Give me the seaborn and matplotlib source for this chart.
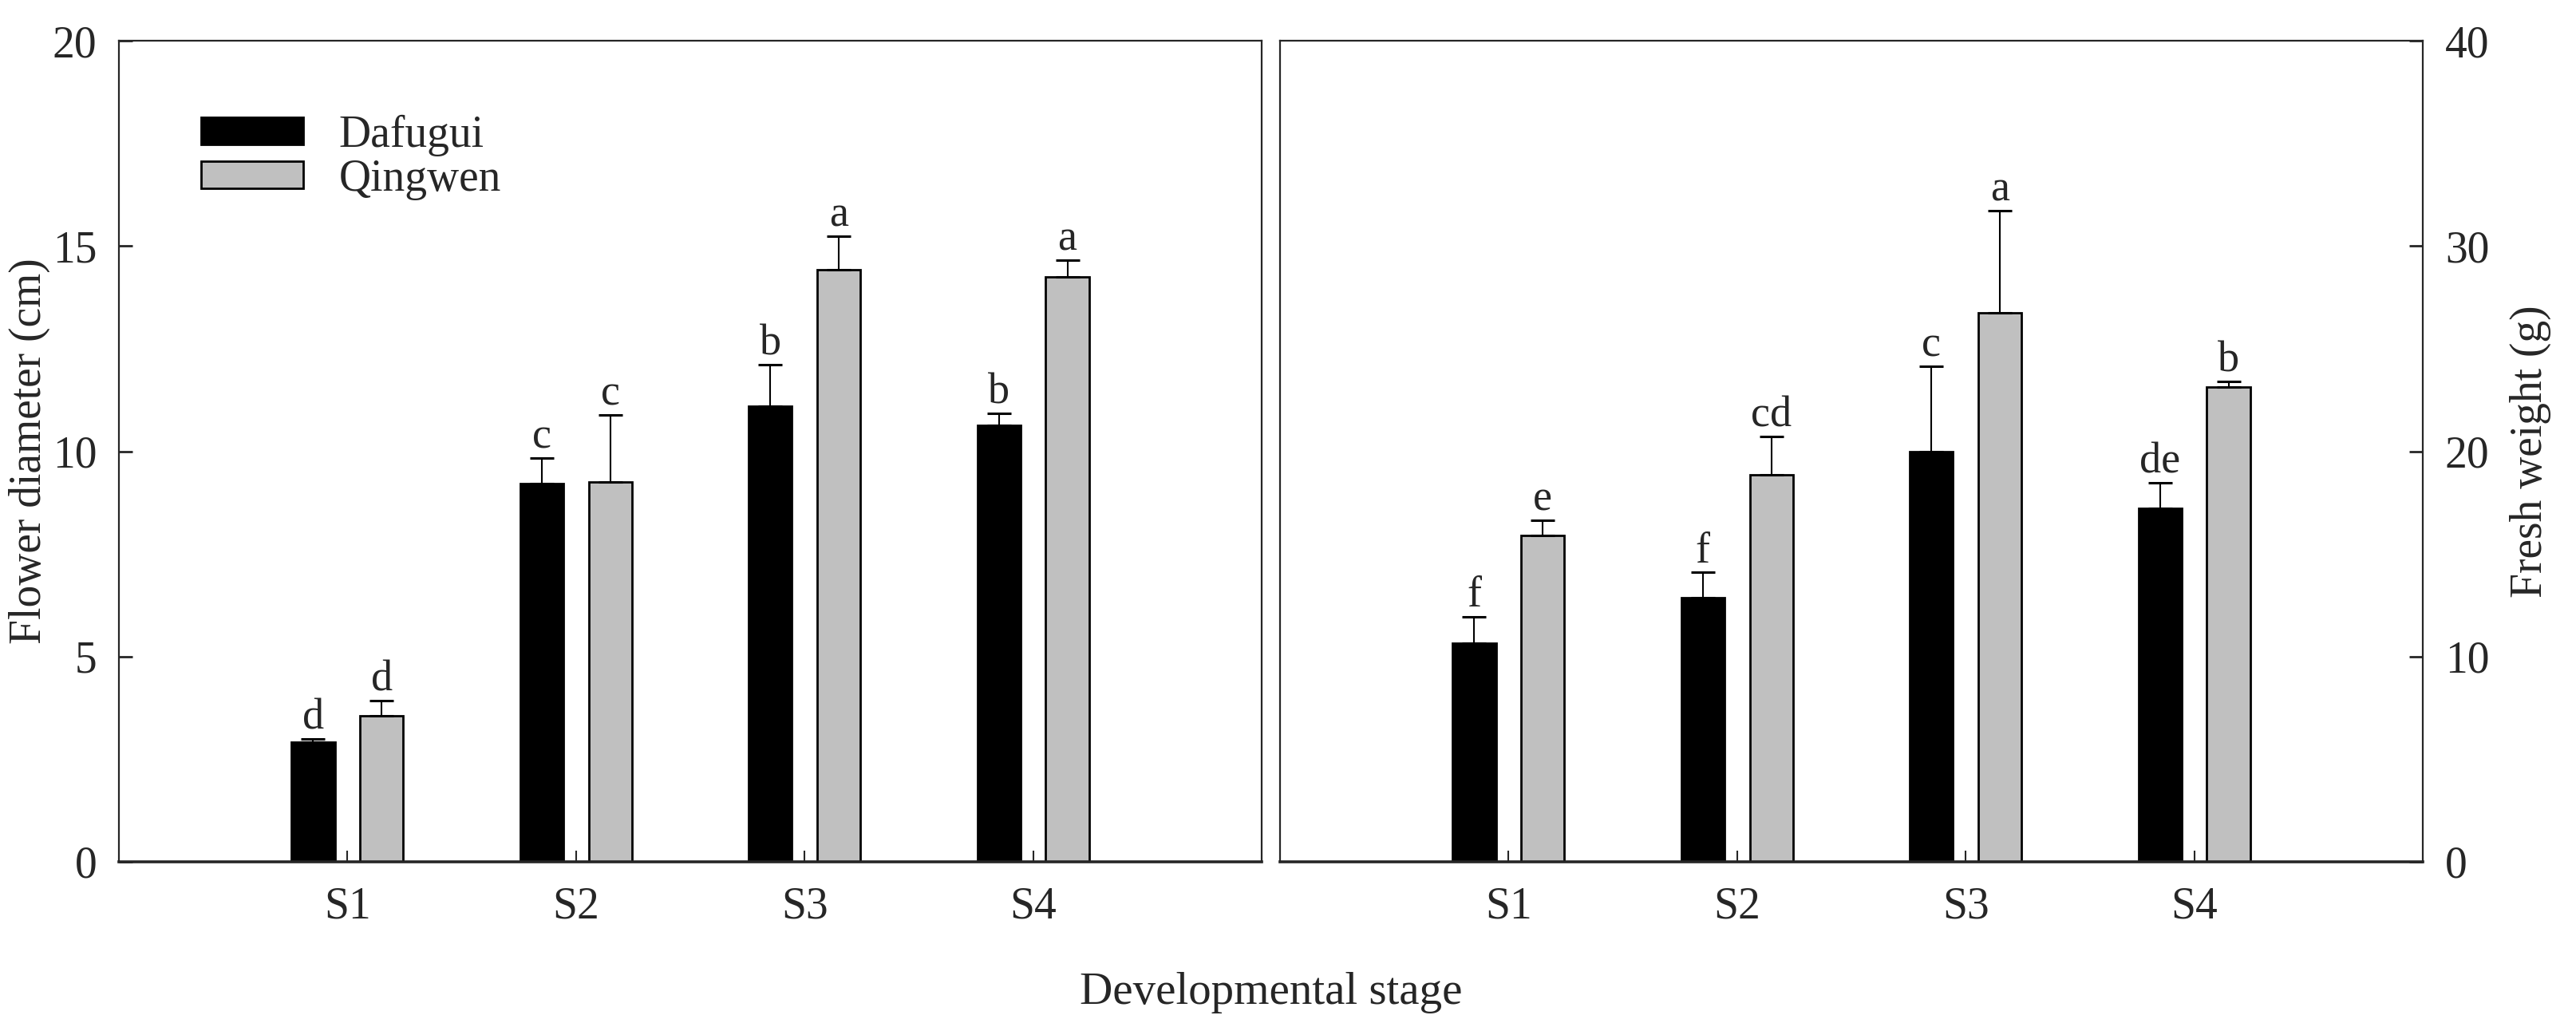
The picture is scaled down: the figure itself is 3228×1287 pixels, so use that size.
import matplotlib
matplotlib.use("Agg")
import matplotlib.pyplot as plt
import seaborn as sns
import pandas as pd
import numpy as np

# ---------------- data ----------------
stages = ["S1", "S2", "S3", "S4"]
cultivars = ["Dafugui", "Qingwen"]

diam_dafugui = [2.91, 9.21, 11.09, 10.63]
diam_dafugui_err = [0.08, 0.62, 1.02, 0.30]
diam_qingwen = [3.55, 9.25, 14.42, 14.24]
diam_qingwen_err = [0.38, 1.63, 0.82, 0.41]
diam_letters_dafugui = ["d", "c", "b", "b"]
diam_letters_qingwen = ["d", "c", "a", "a"]

fw_dafugui = [10.64, 12.85, 19.99, 17.24]
fw_dafugui_err = [1.31, 1.25, 4.16, 1.22]
fw_qingwen = [15.90, 18.87, 26.73, 23.13]
fw_qingwen_err = [0.74, 1.86, 4.98, 0.27]
fw_letters_dafugui = ["f", "f", "c", "de"]
fw_letters_qingwen = ["e", "cd", "a", "b"]

diam_yticks = [0, 5, 10, 15, 20]
fw_yticks = [0, 10, 20, 30, 40]

# ---------------- style ----------------
sns.set_style("ticks")
plt.rcParams["font.family"] = ["Liberation Serif", "DejaVu Serif"]
plt.rcParams["axes.linewidth"] = 1.6
FS = 40

colors = ["black", "#c0c0c0"]

W, H = 3228, 1287
fig = plt.figure(figsize=(W / 100, H / 100), dpi=100)
ax1 = fig.add_axes([149 / W, (H - 1080) / H, 1432 / W, 1029 / H])
ax2 = fig.add_axes([1604 / W, (H - 1080) / H, 1432 / W, 1029 / H])


def make_df(v1, v2):
    return pd.DataFrame({
        "Stage": stages * 2,
        "Cultivar": [cultivars[0]] * 4 + [cultivars[1]] * 4,
        "Value": list(v1) + list(v2),
    })


def draw_panel(ax, v1, e1, v2, e2, l1, l2, legend):
    df = make_df(v1, v2)
    sns.barplot(data=df, x="Stage", y="Value", hue="Cultivar",
                order=stages, hue_order=cultivars, palette=colors,
                width=0.6, gap=0.37, edgecolor="black", linewidth=2.0,
                errorbar=None, ax=ax, legend=legend, saturation=1)
    for cont, vals, errs, labs in zip(ax.containers, [v1, v2], [e1, e2], [l1, l2]):
        xs = [p.get_x() + p.get_width() / 2 for p in cont.patches]
        ys = [p.get_height() for p in cont.patches]
        ax.errorbar(xs, ys, yerr=[np.zeros(len(errs)), errs], fmt="none",
                    ecolor="black", elinewidth=1.5, capsize=11, capthick=2.2,
                    zorder=3)
        for x, y, e, t in zip(xs, ys, errs, labs):
            ax.annotate(t, xy=(x, y + e), xytext=(0, 9), textcoords="offset points",
                        ha="center", va="baseline", fontsize=FS - 1)
    ax.set_xlim(-1, 4)
    ax.set_xlabel("")
    ax.tick_params(axis="x", direction="in", length=10, width=1.5,
                   labelsize=FS, pad=22, top=False)
    for s in ["top", "left", "right"]:
        ax.spines[s].set_linewidth(1.6)
    ax.spines["bottom"].set_linewidth(2.6)


draw_panel(ax1, diam_dafugui, diam_dafugui_err, diam_qingwen, diam_qingwen_err,
           diam_letters_dafugui, diam_letters_qingwen, True)
draw_panel(ax2, fw_dafugui, fw_dafugui_err, fw_qingwen, fw_qingwen_err,
           fw_letters_dafugui, fw_letters_qingwen, False)

# left axis
ax1.set_ylim(0, 20)
ax1.set_yticks(diam_yticks)
ax1.tick_params(axis="y", direction="in", length=12, width=2, labelsize=FS,
                pad=20, right=False)
ax1.set_ylabel("Flower diameter (cm)", fontsize=FS)
ax1.yaxis.set_label_coords(-0.060, 0.5)

handles, labels = ax1.get_legend_handles_labels()
ax1.legend(handles, labels, loc="upper left", bbox_to_anchor=(0.072, 0.91),
           frameon=False, fontsize=FS, handlelength=2.3, handleheight=0.58,
           handletextpad=0.8, labelspacing=0.05, borderpad=0, borderaxespad=0)

# right axis
ax2.set_ylim(0, 40)
ax2.set_yticks(fw_yticks)
ax2.yaxis.tick_right()
ax2.yaxis.set_label_position("right")
ax2.tick_params(axis="y", direction="in", length=12, width=2, labelsize=FS,
                pad=20, left=False, right=True, labelleft=False, labelright=True)
ax2.set_ylabel("Fresh weight (g)", fontsize=FS)
ax2.yaxis.set_label_coords(1.076, 0.5)

# shared x label
p1 = ax1.get_position()
p2 = ax2.get_position()
fig.text((p1.x0 + p2.x1) / 2, (H - 1258) / H, "Developmental stage",
         ha="center", va="baseline", fontsize=FS + 1)

fig.savefig("out.png", dpi=100)
